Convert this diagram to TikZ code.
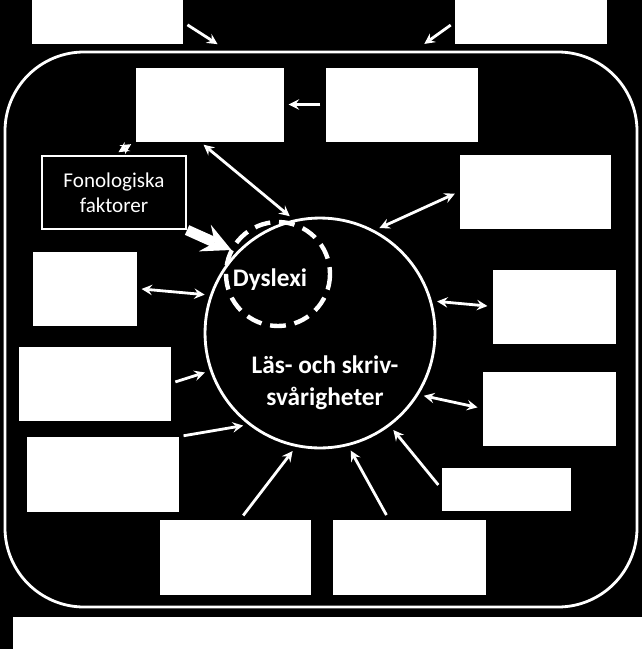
\documentclass[tikz,border=0pt]{standalone}
\usepackage{fontspec}
\setmainfont{Carlito}
\usetikzlibrary{calc, positioning, arrows}
\tikzstyle{wbox}=[draw=white, fill=white, inner sep=0pt]
\tikzstyle{link}=[<->, >=stealth, white, line width=1.6pt, shorten <=3pt, shorten >=3pt]
\tikzstyle{push}=[->, >=stealth, white, line width=1.6pt, shorten <=3pt, shorten >=3pt]
\begin{document}
\begin{tikzpicture}[x=0.02cm, y=-0.02cm]
			% Background
			\fill[black] (0,0) rectangle (642,649);
			\useasboundingbox (0,0) rectangle (642,649);

			% Outer frame and boxes around it
			\draw[white, line width=1.6pt, rounded corners=45] (5,52) rectangle (637,607);
			\coordinate (TL) at (222,47);
			\coordinate (TR) at (420,47);
			\fill[white] (32,0) rectangle (183,44);
			\fill[white] (455,0) rectangle (607,44);
			\fill[white] (13,617) rectangle (642,649);
			\coordinate (T1) at (183,22);
			\coordinate (T2) at (455,22);
			\draw[push] (T1) -- (TL);
			\draw[push] (T2) -- (TR);

			% Inner boxes
			\foreach \name / \xa / \ya / \xb / \yb in {
				A/136/68/283/141, B/326/68/477/141, R-1/460/155/610/228,
				L-1/33/252/136/325, R-2/493/270/615/343, L-2/19/347/170/420,
				R-3/483/372/615/445, L-3/27/437/178/511, R-4/442/468/570/510,
				D-1/160/520/310/594, D-2/333/520/485/594}
			{
				\pgfmathsetmacro\bw{(\xb-\xa)*0.02}
				\pgfmathsetmacro\bh{(\yb-\ya)*0.02}
				\node[wbox, minimum width=\bw cm, minimum height=\bh cm] (\name) at ({(\xa+\xb)/2},{(\ya+\yb)/2}) {};
			}

			% Phonological factors
			\node[draw=white, line width=1.2pt, text=white, minimum width=2.88cm, minimum height=1.46cm, align=center, font=\large] (F) at (114,192.5) {Fonologiska\\faktorer};

			% Main circle
			\node[circle, draw=white, line width=1.6pt, minimum size=4.6cm] (C) at (320,333) {};
			\draw[white, line width=2.5pt, dash pattern=on 9pt off 5pt] (278,274) circle (52);
			\node[text=white, font=\Large\bfseries] (dys) at (270,280) {Dyslexi};
			\node[text=white, font=\Large\bfseries, align=center] (ls) at (325,383) {Läs- och skriv-\\svårigheter};

			% Connectors
			\draw[push] (B.west) -- (A.east);
			\draw[link] (A.south west) -- (F.north);
			\draw[link] ($(A.south)+(-0.2cm,0)$) -- (C.103);
			\draw[link] (R-1.west) -- (C.62);
			\draw[->, >=stealth, white, line width=6pt, shorten >=3pt] (F.south east) -- (C.136);
			\draw[link] (L-1.east) -- (C.161);
			\draw[link] (R-2.west) -- (C.16);
			\draw[push] (L-2.east) -- (C.199);
			\draw[link] (R-3.west) -- (C.328);
			\draw[push] (L-3.north east) -- (C.232);
			\draw[push] (R-4.west) -- (C.307);
			\draw[push] ($(D-1.north)+(0.1cm,0)$) -- (C.258);
			\draw[push] ($(D-2.north)+(-0.4cm,0)$) -- (C.284);
\end{tikzpicture}
\end{document}
